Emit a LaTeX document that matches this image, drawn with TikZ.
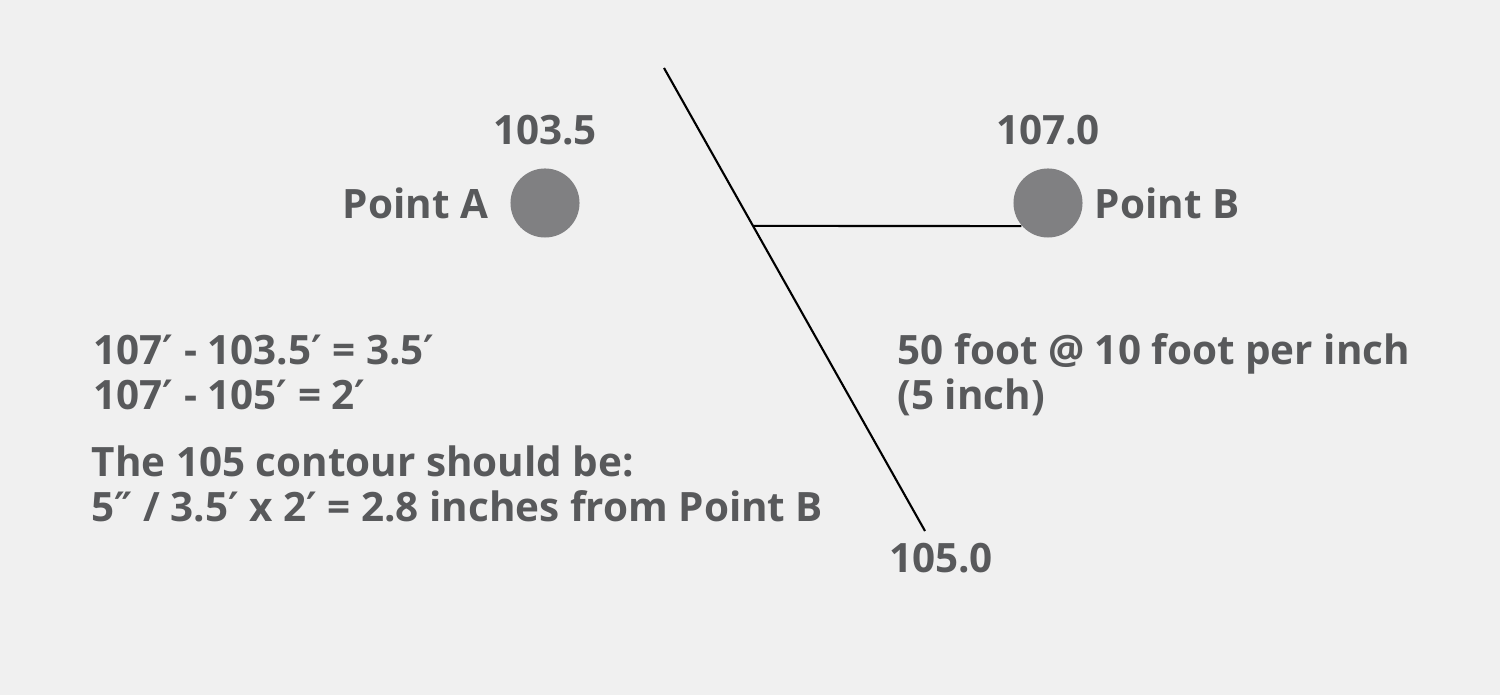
\documentclass[tikz,border=0pt]{standalone}
\usepackage{fontspec}
\setmainfont{Open Sans}
\newfontfamily\primefont{DejaVu Sans}
\usetikzlibrary{positioning, calc}

\definecolor{paper}{RGB}{240,240,240}
\definecolor{ink}{RGB}{88,89,91}
\definecolor{dot}{RGB}{128,128,130}

% feet and inch marks
\newcommand{\ft}{{\primefont ′}}
\newcommand{\inch}{{\primefont ″}}

\begin{document}
\begin{tikzpicture}[x=0.01cm, y=-0.01cm]
    % Define styles
    \tikzstyle{spot} = [circle, fill=dot, minimum size=0.69cm, inner sep=0pt]
    \tikzstyle{lbl} = [text=ink, font=\fontsize{11.5}{12.8}\selectfont\bfseries, inner sep=0pt]
    \tikzstyle{note} = [lbl, align=left, anchor=base west]
    \tikzstyle{contour} = [draw, black, line width=0.6pt]

    % paper
    \fill[paper] (0,0) rectangle (1500,695);

    % Define nodes
    \node [spot] (ptA) at (545,203) {};
    \node [spot] (ptB) at (1048,203) {};
    \node [lbl, above=0.235cm of ptA, anchor=base] (elevA) {103.5};
    \node [lbl, above=0.235cm of ptB, anchor=base] (elevB) {107.0};
    \node [lbl, left=0.21cm of ptA] (nameA) {Point A};
    \node [lbl, right=0.11cm of ptB] (nameB) {Point B};

    \coordinate (ctop) at (664,68);
    \coordinate (cbot) at (925,531);
    \node [lbl, anchor=base] (elevC) at (941,573) {105.0};

    % base of a two-line note is its last line
    \node [note] (diffs) at (93,410) {107\ft{} - 103.5\ft{} = 3.5\ft\\107\ft{} - 105\ft{} = 2\ft};
    \node [note] (answer) at (91,522) {The 105 contour should be:\\5\inch{} / 3.5\ft{} x 2\ft{} = 2.8 inches from Point B};
    \node [note] (scale) at (897,410) {50 foot @ 10 foot per inch\\(5 inch)};

    % Draw edges
    \path [contour] (ctop) -- (cbot);
    \path [contour] ($(ctop)!0.341!(cbot)$) -- (ptB.221.8);
\end{tikzpicture}
\end{document}
